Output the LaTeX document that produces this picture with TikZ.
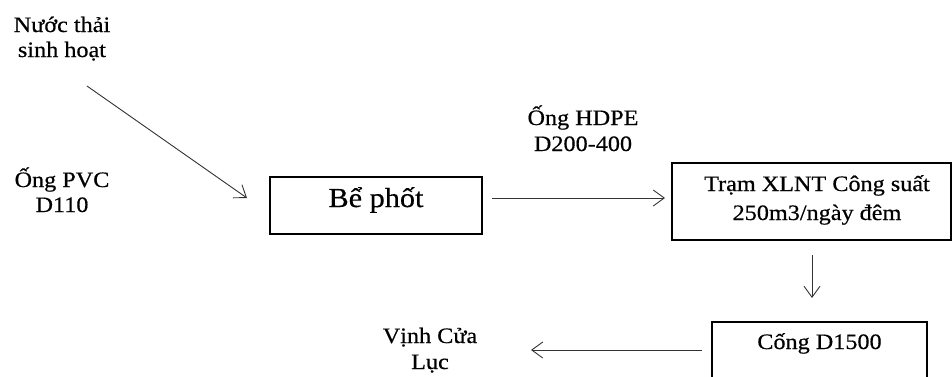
\documentclass[tikz,border=0pt]{standalone}
\usepackage{fontspec}
\setmainfont{Liberation Serif}[FakeStretch=1.1,FakeBold=0.5]
\usetikzlibrary{arrows.meta}
\newcommand{\twolines}[3]{{\fontsize{22}{#1}\selectfont\setlength{\tabcolsep}{0pt}\renewcommand{\arraystretch}{1}\begin{tabular}[b]{c}#2\\#3\end{tabular}}}
\begin{document}
\begin{tikzpicture}[x=1pt,y=-1pt,
  lbl/.style={inner sep=0pt,anchor=base},
  boxn/.style={draw=black,line width=1.6pt,inner sep=0pt,anchor=base},
  arr/.style={draw=black!80,line width=0.9pt,-{Straight Barb[length=11pt,width=16pt,line width=0.9pt]}}]
\useasboundingbox (0,0) rectangle (952,376);
% labels
\node[lbl] (nuoc) at (62,57) {\twolines{25}{Nước thải}{sinh hoạt}};
\node[lbl] (pvc) at (62,212) {\twolines{25}{Ống PVC}{D110}};
\node[lbl] (hdpe) at (583,151) {\twolines{26}{Ống HDPE}{D200-400}};
\node[lbl] (vinh) at (430,369) {\twolines{26}{Vịnh Cửa}{Lục}};
% boxes
\node[boxn,minimum width=212pt,text height=30pt,text depth=27pt,font=\fontsize{27.5}{30}\selectfont] (be) at (376,207) {Bể phốt};
\node[boxn,minimum width=279pt,text height=57pt,text depth=20pt] (tram) at (811.5,220)
  {{\fontsize{22}{29}\selectfont\setlength{\tabcolsep}{0pt}\renewcommand{\arraystretch}{1}\begin{tabular}[b]{@{\hspace{11pt}}c@{}}Trạm XLNT Công suất\\250m3/ngày đêm\end{tabular}}};
\node[boxn,minimum width=215pt,text height=27pt,text depth=45pt,font=\fontsize{22}{26}\selectfont] (cong) at (819.5,349) {Cống D1500};
% connectors
\coordinate (a1s) at (87,86);
\coordinate (a1e) at (247,198);
\coordinate (a2s) at (492,198);
\coordinate (a2e) at (665,198);
\coordinate (a3s) at (812,255);
\coordinate (a3e) at (812,298);
\coordinate (a4s) at (702,350);
\coordinate (a4e) at (531,350);
\draw[arr] (a1s) -- (a1e);
\draw[arr] (a2s) -- (a2e);
\draw[arr] (a3s) -- (a3e);
\draw[arr] (a4s) -- (a4e);
\end{tikzpicture}
\end{document}
